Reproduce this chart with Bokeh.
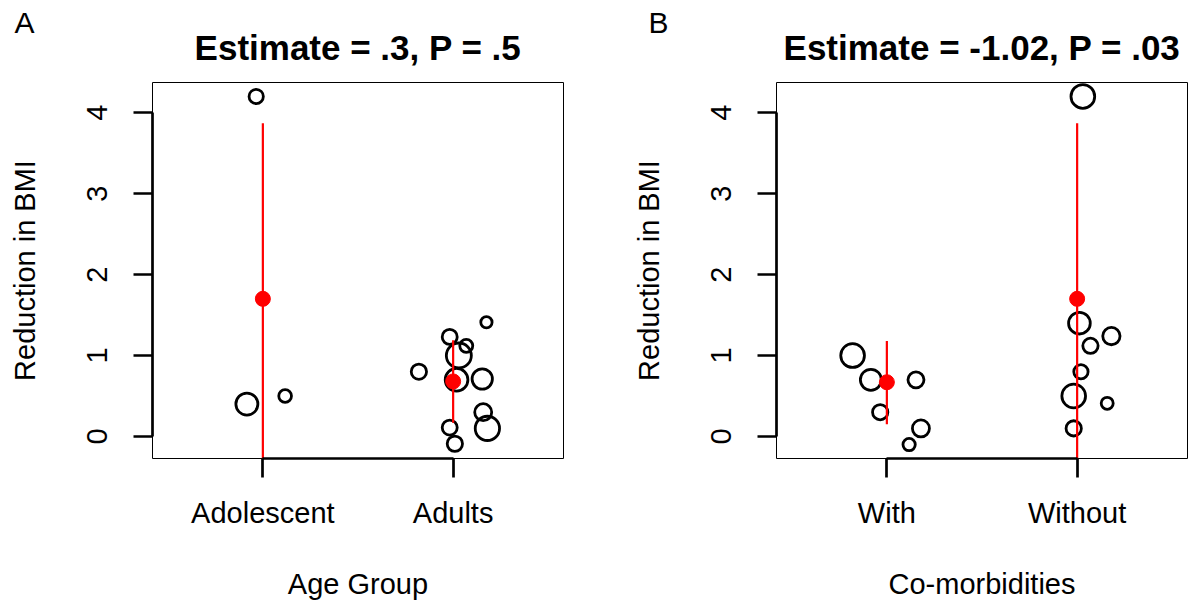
from bokeh.plotting import figure
from bokeh.models import Range1d, FixedTicker, Title
from bokeh.layouts import row
from bokeh.embed import file_html
from bokeh.resources import INLINE

# ---------------- data ----------------
A_CATEGORIES = ["Adolescent", "Adults"]
A_GROUP = [1, 1, 1, 2, 2, 2, 2, 2, 2, 2, 2, 2, 2, 2]
A_JITTER = [-0.035, -0.084, 0.117, -0.018, 0.069, 0.030, 0.175, -0.180,
            0.018, 0.153, 0.158, 0.180, -0.018, 0.009]
A_VALUE = [4.2, 0.4, 0.5, 1.23, 1.12, 1.0, 1.41, 0.8, 0.7, 0.71, 0.3, 0.1, 0.11, -0.09]
A_WEIGHT = [14.3, 22, 12.7, 15, 13, 25, 11.3, 15.3, 22.7, 20.3, 17, 24.3, 15, 15.3]
A_EST = [1.7, 0.68]
A_LO = [-0.47, 0.17]
A_HI = [3.87, 1.19]
A_TITLE = "Estimate = .3, P = .5"
A_XLABEL = "Age Group"

B_CATEGORIES = ["With", "Without"]
B_GROUP = [1, 1, 1, 1, 1, 1, 2, 2, 2, 2, 2, 2, 2, 2]
B_JITTER = [-0.180, -0.084, 0.153, -0.035, 0.179, 0.117,
            0.030, 0.012, 0.180, 0.070, 0.020, -0.018, 0.158, -0.018]
B_VALUE = [1.0, 0.7, 0.7, 0.3, 0.1, -0.1, 4.2, 1.4, 1.24, 1.12, 0.8, 0.5, 0.41, 0.1]
B_WEIGHT = [23.7, 21, 16, 15.3, 17, 12.3, 23.7, 21.7, 17.3, 15.3, 14.3, 23.7, 12, 15.3]
B_EST = [0.67, 1.7]
B_LO = [0.15, -0.47]
B_HI = [1.18, 3.87]
B_TITLE = "Estimate = -1.02, P = .03"
B_XLABEL = "Co-morbidities"

Y_TICKS = [0, 1, 2, 3, 4]
Y_LABEL = "Reduction in BMI"

FONT = "Liberation Sans"
X_START, X_END = 0.42, 2.58
Y_START, Y_END = -0.272, 4.372
FRAME_W, FRAME_H = 411, 376


def make_panel(letter, letter_dx, cats, group, jitter, vals, weights, est, lo, hi,
               title, xlabel, border_right):
    p = figure(frame_width=FRAME_W, frame_height=FRAME_H,
               min_border_left=152, min_border_right=border_right,
               min_border_top=82, min_border_bottom=149,
               x_range=Range1d(X_START, X_END), y_range=Range1d(Y_START, Y_END),
               output_backend="svg", toolbar_location=None)
    p.background_fill_color = "white"
    p.border_fill_color = "white"
    p.outline_line_color = "black"
    p.outline_line_width = 1
    p.xgrid.visible = False
    p.ygrid.visible = False

    # main (bold) title, nearest to the frame
    p.add_layout(Title(text=title, text_font=FONT, text_font_size="35px",
                       text_font_style="bold", align="center", standoff=31,
                       text_color="black"), "above")
    # panel letter as the outermost title
    p.title = Title(text=letter, text_font=FONT, text_font_size="30px",
                    text_font_style="normal", align="left", offset=-letter_dx,
                    standoff=-56, text_color="black")

    for ax in (p.xaxis[0], p.yaxis[0]):
        ax.axis_line_width = 2.7
        ax.axis_line_color = "black"
        ax.major_tick_line_width = 2.7
        ax.major_tick_line_color = "black"
        ax.major_tick_out = 19
        ax.major_tick_in = 0
        ax.minor_tick_line_color = None
        ax.major_label_text_font = FONT
        ax.major_label_text_font_size = "29px"
        ax.major_label_text_color = "black"
        ax.axis_label_text_font = FONT
        ax.axis_label_text_font_size = "29px"
        ax.axis_label_text_font_style = "normal"
        ax.axis_label_text_color = "black"

    xa = p.xaxis[0]
    xa.ticker = FixedTicker(ticks=[1, 2])
    xa.major_label_overrides = {1: cats[0], 2: cats[1]}
    xa.bounds = (1, 2)
    xa.major_label_standoff = 19
    xa.axis_label = xlabel
    xa.axis_label_standoff = 36

    ya = p.yaxis[0]
    ya.ticker = FixedTicker(ticks=Y_TICKS)
    ya.bounds = (0, 4)
    ya.major_label_orientation = "vertical"
    ya.major_label_standoff = 26
    ya.axis_label = Y_LABEL
    ya.axis_label_standoff = 44

    xs = [g + j for g, j in zip(group, jitter)]
    p.scatter(x=xs, y=vals, size=weights, marker="circle",
              fill_color=None, line_color="black", line_width=2.8)

    gx = [1, 2]
    p.segment(x0=gx, y0=lo, x1=gx, y1=hi, line_color="red", line_width=2.2)
    p.scatter(x=gx, y=est, size=15, marker="circle",
              fill_color="red", line_color="red", line_width=1)
    return p


p1 = make_panel("A", 138, A_CATEGORIES, A_GROUP, A_JITTER, A_VALUE, A_WEIGHT,
                A_EST, A_LO, A_HI, A_TITLE, A_XLABEL, 61)
p2 = make_panel("B", 128, B_CATEGORIES, B_GROUP, B_JITTER, B_VALUE, B_WEIGHT,
                B_EST, B_LO, B_HI, B_TITLE, B_XLABEL, 1)

layout = row(p1, p2)
open("out.html", "w").write(file_html(layout, INLINE))
